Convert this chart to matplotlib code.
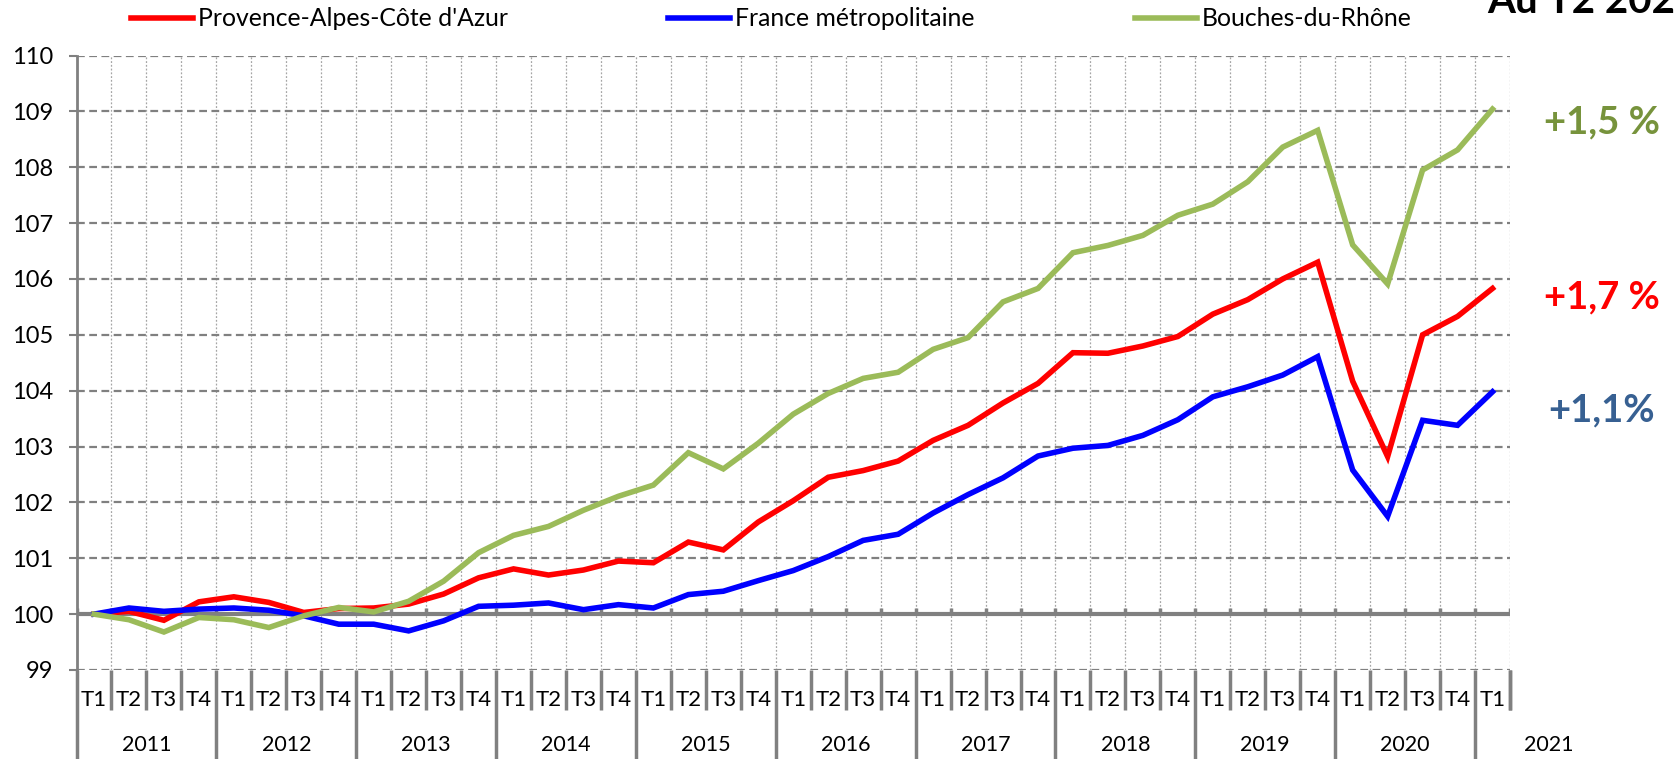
import numpy as np
import matplotlib
matplotlib.use("Agg")
import matplotlib.pyplot as plt
import matplotlib.transforms as mtransforms

plt.rcParams['font.family'] = ['Lato', 'DejaVu Sans']

# Data: index base 100 at T1 2011, quarterly until T1 2021
years = [str(y) for y in range(2011, 2022)]
quarters = ['T1', 'T2', 'T3', 'T4'] * 10 + ['T1']

paca = [100.0, 100.05, 99.89, 100.22, 100.31, 100.21, 100.03, 100.1, 100.11, 100.18,
        100.36, 100.65, 100.81, 100.7, 100.79, 100.95, 100.92, 101.29, 101.15, 101.65,
        102.03, 102.45, 102.57, 102.74, 103.11, 103.38, 103.78, 104.13, 104.68, 104.67,
        104.8, 104.97, 105.37, 105.63, 106.0, 106.3, 104.17, 102.82, 105.0, 105.33, 105.83]
france = [100.0, 100.11, 100.05, 100.09, 100.11, 100.07, 99.97, 99.82, 99.82, 99.7,
          99.88, 100.14, 100.16, 100.2, 100.08, 100.17, 100.11, 100.35, 100.41, 100.6,
          100.78, 101.03, 101.32, 101.43, 101.81, 102.14, 102.44, 102.83, 102.97, 103.02,
          103.2, 103.48, 103.89, 104.07, 104.28, 104.61, 102.58, 101.75, 103.47, 103.38, 103.98]
bdr = [100.0, 99.9, 99.68, 99.94, 99.9, 99.76, 99.97, 100.12, 100.04, 100.23,
       100.59, 101.1, 101.41, 101.57, 101.86, 102.11, 102.31, 102.89, 102.6, 103.06,
       103.58, 103.95, 104.22, 104.33, 104.74, 104.95, 105.59, 105.83, 106.47, 106.6,
       106.78, 107.14, 107.34, 107.74, 108.36, 108.66, 106.61, 105.91, 107.95, 108.31, 109.04]

series_names = ["Provence-Alpes-Côte d'Azur", "France métropolitaine", "Bouches-du-Rhône"]
series_colors = ['#FF0000', '#0000FF', '#9BBB59']
changes = ['+1,7 %', '+1,1%', '+1,5 %']
change_colors = ['#FF0000', '#376092', '#77933C']

W, H = 1675, 759
fig = plt.figure(figsize=(W / 100, H / 100), dpi=100)
ax = fig.add_axes([76.5 / W, 1 - 670 / H, (1510 - 76.5) / W, (670 - 55.5) / H])

x = np.arange(len(quarters))
n = len(quarters)
grey = '#808080'

# Grid
bounds = np.arange(-0.5, n, 1.0)
for b in bounds[1:]:
    ax.axvline(b, color='#A6A6A6', lw=0.9, ls=(0, (1.5, 1.5)), zorder=1)
for yv in range(99, 111):
    if yv != 100:
        ax.axhline(yv, color=grey, lw=1.6, ls=(0, (3.5, 2)), zorder=1)

# Horizontal axis line at 100 with little tick marks
ax.axhline(100, color=grey, lw=3, zorder=2)
ax.vlines(bounds, 100, 100.11, color=grey, lw=2.5, zorder=2)

for vals, name, col in zip([paca, france, bdr], series_names, series_colors):
    ax.plot(x, vals, color=col, lw=4, label=name, zorder=3, solid_joinstyle='miter')

ax.set_xlim(-0.5, n - 0.5)
ax.set_ylim(99, 110)
ax.set_yticks(range(99, 111))
ax.tick_params(axis='y', length=5.5, width=1.5, color=grey, pad=11, labelsize=17)
ax.set_xticks([])
for s in ['top', 'right', 'bottom']:
    ax.spines[s].set_visible(False)
ax.spines['left'].set_color(grey)
ax.spines['left'].set_linewidth(2)

# Category axis (quarters and years) below the plot
trans = mtransforms.blended_transform_factory(ax.transData, ax.transAxes)
short_y = (670 - 710) / (670 - 55.5)
long_y = (670 - 759) / (670 - 55.5)
for i, b in enumerate(bounds):
    year_edge = (i % 4 == 0)
    ax.plot([b, b], [0, long_y if year_edge else short_y], color=grey, lw=2.5,
            transform=trans, clip_on=False, solid_capstyle='butt')
ax.plot([n - 0.5, n - 0.5], [0, short_y], color=grey, lw=2.5,
        transform=trans, clip_on=False, solid_capstyle='butt')

for xi, q in zip(x, quarters):
    ax.text(xi, (670 - 700) / (670 - 55.5), q, transform=trans, ha='center', va='center',
            fontsize=16)
year_x = [1.5 + 4 * k for k in range(10)] + [41.6]
for yx, yr in zip(year_x, years):
    ax.text(yx, (670 - 745) / (670 - 55.5), yr, transform=trans, ha='center', va='center',
            fontsize=15.5, clip_on=False)

# Legend
fig.legend(loc='center left', bbox_to_anchor=(131 / W, 1 - 19 / H), ncol=3, frameon=False,
           fontsize=17.8, handlelength=2.5, handletextpad=0.2, columnspacing=6.5,
           borderpad=0, borderaxespad=0)

# Right-hand annotations
ann_y = [297, 410, 122]
for txt, col, yy in zip(changes, change_colors, ann_y):
    fig.text(1602 / W, 1 - yy / H, txt, color=col, fontsize=27.5, fontweight='bold',
             ha='center', va='center')

fig.text(1487 / W, 1 - 13 / H, 'Au T2 2021', fontsize=29, fontweight='bold',
         ha='left', va='baseline')

fig.savefig('out.png', dpi=100)
